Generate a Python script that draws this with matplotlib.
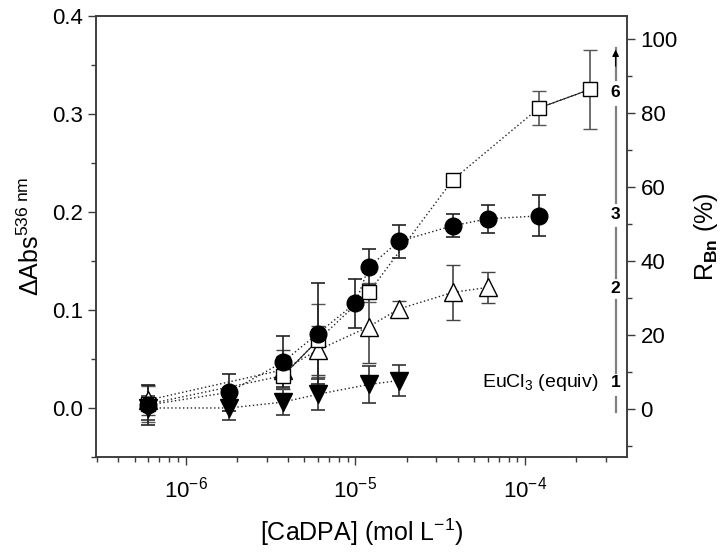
import matplotlib
matplotlib.use("Agg")
import matplotlib.pyplot as plt
from matplotlib.ticker import MultipleLocator, FixedLocator, LogLocator, NullFormatter

plt.rcParams['font.family'] = ['Liberation Sans', 'DejaVu Sans']
plt.rcParams['mathtext.fontset'] = 'custom'
plt.rcParams['mathtext.rm'] = 'Liberation Sans'
plt.rcParams['mathtext.it'] = 'Liberation Sans:italic'
plt.rcParams['mathtext.bf'] = 'Liberation Sans:bold'

# ---- data ----
circ_x = [6e-7, 1.8e-6, 3.75e-6, 6e-6, 1.0e-5, 1.2e-5, 1.8e-5, 3.75e-5, 6e-5, 1.2e-4]
circ_y = [0.003, 0.016, 0.047, 0.076, 0.107, 0.144, 0.170, 0.186, 0.193, 0.196]
circ_e = [0.020, 0.019, 0.026, 0.052, 0.025, 0.018, 0.017, 0.012, 0.014, 0.021]

sq_x = [6e-7, 3.75e-6, 6e-6, 1.2e-5, 3.75e-5, 1.2e-4, 2.4e-4]
sq_y = [0.004, 0.033, 0.069, 0.118, 0.233, 0.306, 0.325]
sq_e = [0.018, 0.020, 0.037, 0.010, 0.004, 0.017, 0.040]

tu_x = [6e-7, 3.75e-6, 6e-6, 1.2e-5, 1.8e-5, 3.75e-5, 6e-5]
tu_y = [0.008, 0.039, 0.059, 0.083, 0.101, 0.118, 0.123]
tu_e = [0.015, 0.020, 0.025, 0.037, 0.008, 0.028, 0.016]

td_x = [6e-7, 1.8e-6, 3.75e-6, 6e-6, 1.2e-5, 1.8e-5]
td_y = [0.000, 0.000, 0.006, 0.014, 0.024, 0.028]
td_e = [0.012, 0.012, 0.013, 0.016, 0.019, 0.016]

eq_labels = ['6', '3', '2', '1']

fig = plt.figure(figsize=(7.28, 5.55), dpi=100)
ax = fig.add_axes([0.132, 0.1766, 0.7297, 0.7946])
spine_c = '#3a3a3a'

# dotted connecting curves
for xs, ys in [(sq_x, sq_y), (circ_x, circ_y), (tu_x, tu_y), (td_x, td_y)]:
    ax.plot(xs, ys, ls=(0, (1, 1.8)), color='#222222', lw=1.0, zorder=2)
# thin solid segments
ax.plot(sq_x[1:3], sq_y[1:3], color='#222222', lw=0.8, zorder=2)
ax.plot(sq_x[5:7], sq_y[5:7], color='#222222', lw=0.8, zorder=2)

eb = dict(capsize=5, elinewidth=1.2, capthick=1.2, ls='none', zorder=3)
ax.errorbar(td_x, td_y, yerr=td_e, fmt='v', ms=12.5, mfc='black', mec='black', ecolor='#333333', **eb)
ax.errorbar(tu_x, tu_y, yerr=tu_e, fmt='^', ms=12.5, mfc='white', mec='black', mew=1.0, ecolor='#444444', **eb)
ax.errorbar(sq_x, sq_y, yerr=sq_e, fmt='s', ms=9.5, mfc='white', mec='black', mew=1.0, ecolor='#555555', **eb)
ax.errorbar(circ_x, circ_y, yerr=circ_e, fmt='o', ms=12, mfc='black', mec='black', ecolor='#222222', **eb)

ax.set_xscale('log')
ax.set_xlim(2.97e-7, 3.99e-4)
ax.set_ylim(-0.05, 0.4)
ax.yaxis.set_major_locator(MultipleLocator(0.1))
ax.yaxis.set_minor_locator(MultipleLocator(0.05))
ax.yaxis.set_major_formatter(matplotlib.ticker.FormatStrFormatter('%.1f'))
ax.xaxis.set_major_locator(LogLocator(base=10, numticks=10))
ax.xaxis.set_minor_locator(LogLocator(base=10, subs=range(2, 10), numticks=20))
ax.xaxis.set_minor_formatter(NullFormatter())

ax.tick_params(which='both', direction='out', colors=spine_c, labelcolor='black', labelsize=16)
ax.tick_params(which='major', length=6, width=1)
ax.tick_params(which='minor', length=3.5, width=1)
ax.tick_params(axis='y', right=False)
ax.tick_params(axis='x', pad=8)
for s in ax.spines.values():
    s.set_color(spine_c)
    s.set_linewidth(1.1)

ax.set_xlabel(r'[CaDPA] (mol L$^{-1}$)', fontsize=18, labelpad=10)
ax.set_ylabel(r'$\Delta$Abs$^{536\ \mathrm{nm}}$', fontsize=18, labelpad=6)

ax2 = ax.twinx()
ax2.set_ylim(-12.9, 106.3)
ax2.yaxis.set_major_locator(FixedLocator([0, 20, 40, 60, 80, 100]))
ax2.yaxis.set_minor_locator(FixedLocator([-10, 10, 30, 50, 70, 90]))
ax2.tick_params(which='both', direction='out', colors=spine_c, labelcolor='black', labelsize=16)
ax2.tick_params(which='major', length=6, width=1)
ax2.tick_params(which='minor', length=3.5, width=1)
for s in ax2.spines.values():
    s.set_color(spine_c)
    s.set_linewidth(1.1)
ax2.set_ylabel(r'R$_{\mathbf{Bn}}$ (%)', fontsize=18, labelpad=10)

# equivalence indicator (gray vertical line with labels)
lx = 0.978
segs = [(0.8549, 0.9274), (0.576, 0.7943), (0.4059, 0.5193), (0.1905, 0.356), (0.102, 0.136)]
for y0, y1 in segs:
    ax.plot([lx, lx], [y0, y1], transform=ax.transAxes, color='#808080', lw=1.6, clip_on=False, zorder=1)
ax.annotate('', xy=(lx, 0.93), xytext=(lx, 0.88), xycoords='axes fraction',
            arrowprops=dict(arrowstyle='-|>', color='black', lw=0.8, mutation_scale=10))
for lab, yy in zip(eq_labels, [0.826, 0.549, 0.383, 0.168]):
    ax.text(lx, yy, lab, transform=ax.transAxes, ha='center', va='center',
            fontsize=12.5, fontweight='bold')
ax.text(0.945, 0.168, r'EuCl$_3$ (equiv)', transform=ax.transAxes, ha='right', va='center', fontsize=14)

fig.savefig('out.png', dpi=100)
